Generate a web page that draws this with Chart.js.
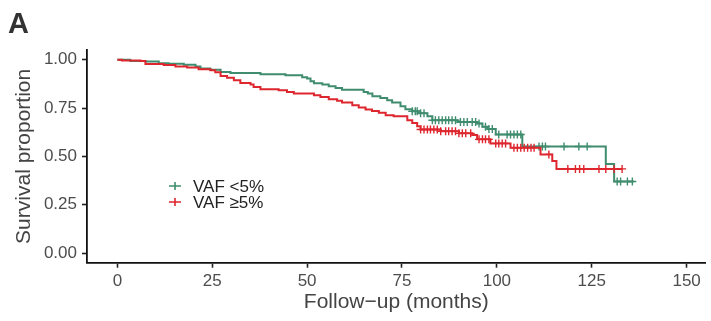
<!DOCTYPE html>
<html>
<head>
<meta charset="utf-8">
<title>Survival by VAF</title>
<script src="https://cdn.jsdelivr.net/npm/chart.js@4.4.1/dist/chart.umd.min.js"></script>
<style>
  html, body { margin: 0; padding: 0; background: #fff; }
  #wrap { width: 711px; height: 321px; }
</style>
</head>
<body>
<div id="wrap"><canvas id="km" width="711" height="321"></canvas></div>
<script>
// ---- data ----
const seriesLabels = ["VAF <5%", "VAF \u22655%"];
const seriesColors = ["#3f8c6e", "#de262e"];

// VAF <5% : step times (months) and survival after each step
const lowTimes = [0, 3.4, 7.4, 10.9, 13.5, 17.5, 20.6, 21.9, 24.5, 27.2, 29.8, 37.7, 44.3, 48.7, 50.0, 50.9, 51.8,
  54.0, 55.7, 57.5, 59.2, 64.9, 66.0, 67.2, 69.3, 71.1, 72.4, 74.6, 75.9, 77.7, 79.4, 81.7, 83.0, 89.6, 94.8,
  96.2, 97.5, 99.7, 106.7, 128.7, 130.9, 136.1];
const lowSurv = [1.0, 0.993, 0.99, 0.982, 0.979, 0.974, 0.965, 0.954, 0.948, 0.936, 0.931, 0.924, 0.919, 0.909, 0.902, 0.888, 0.878,
  0.871, 0.862, 0.854, 0.845, 0.833, 0.825, 0.811, 0.802, 0.79, 0.778, 0.759, 0.744, 0.733, 0.723, 0.708, 0.687, 0.677, 0.67,
  0.653, 0.642, 0.613, 0.551, 0.46, 0.37, 0.37];
const lowCensor = [77.7, 78.5, 79.0, 79.9, 80.8, 83.0, 83.8, 84.7, 85.6, 86.5, 87.3, 88.2, 89.1, 90.4, 91.3, 92.2, 93.5,
  94.4, 95.3, 97.0, 97.9, 98.8, 100.5, 102.7, 103.6, 104.5, 105.4, 106.3, 111.1, 112.0, 112.8, 117.7, 121.6, 123.8,
  131.7, 132.6, 134.4, 135.7];

// VAF >=5%
const highTimes = [0, 1.2, 6.1, 7.4, 12.2, 15.3, 18.4, 21.4, 24.5, 25.8, 27.2, 28.9, 30.7, 32.4, 35.1, 35.9, 37.7, 42.5,
  44.7, 46.5, 51.8, 53.5, 55.7, 57.9, 59.2, 61.9, 63.6, 65.4, 67.1, 68.9, 70.7, 72.8, 76.4, 77.7, 79.0, 79.9, 85.2,
  90.0, 93.5, 94.8, 98.3, 103.6, 111.5, 114.6, 115.7, 133.0];
const highSurv = [1.0, 0.996, 0.993, 0.977, 0.972, 0.965, 0.959, 0.951, 0.945, 0.935, 0.915, 0.907, 0.893, 0.879, 0.871, 0.859, 0.847, 0.842,
  0.833, 0.825, 0.816, 0.807, 0.795, 0.787, 0.778, 0.764, 0.753, 0.742, 0.735, 0.725, 0.713, 0.708, 0.687, 0.673, 0.656, 0.639, 0.63,
  0.619, 0.61, 0.588, 0.567, 0.545, 0.51, 0.476, 0.435, 0.435];
const highCensor = [79.9, 80.8, 81.7, 82.5, 83.4, 84.3, 85.2, 86.5, 87.3, 88.2, 89.1, 90.0, 90.9, 91.8, 93.1, 95.3, 96.2,
  97.0, 97.9, 99.7, 100.5, 101.4, 102.3, 104.5, 105.4, 106.3, 107.2, 108.1, 109.0, 109.8, 113.7, 118.7, 120.7, 121.8,
  122.9, 126.9, 128.7, 130.9, 133.0];

const xTicks = [0, 25, 50, 75, 100, 125, 150];
const yTicks = [0, 0.25, 0.5, 0.75, 1];

// survival value of a step curve at time t
function survAt(times, surv, t) {
  let s = surv[0];
  for (let i = 0; i < times.length; i++) {
    if (times[i] <= t) s = surv[i];
  }
  return s;
}
const toPoints = (times, surv) => times.map((t, i) => ({ x: t, y: surv[i] }));
const censorPoints = (c, times, surv) => c.map(t => ({ x: t, y: survAt(times, surv, t) }));

const FONT = "'Liberation Sans', Arial, Helvetica, sans-serif";

// panel letter + legend drawn in the plot
const extras = {
  id: "extras",
  afterDraw(chart) {
    const ctx = chart.ctx;
    ctx.save();
    ctx.fillStyle = "#333";
    ctx.font = "bold 29px " + FONT;
    ctx.textBaseline = "alphabetic";
    ctx.fillText("A", 8, 33);

    const rows = [186, 202];
    ctx.font = "17px " + FONT;
    ctx.textBaseline = "middle";
    seriesLabels.forEach((lab, i) => {
      const y = rows[i];
      ctx.strokeStyle = seriesColors[i];
      ctx.lineWidth = 1.6;
      ctx.beginPath();
      ctx.moveTo(169, y); ctx.lineTo(181, y);
      ctx.moveTo(175, y - 4); ctx.lineTo(175, y + 4);
      ctx.stroke();
      ctx.fillStyle = "#222";
      ctx.fillText(lab, 193, y + 1);
    });
    ctx.restore();
  }
};

new Chart(document.getElementById("km"), {
  type: "line",
  data: {
    datasets: [
      {
        label: seriesLabels[0], data: toPoints(lowTimes, lowSurv), stepped: true,
        borderColor: seriesColors[0], borderWidth: 2, pointRadius: 0, fill: false, order: 3
      },
      {
        label: seriesLabels[1], data: toPoints(highTimes, highSurv), stepped: true,
        borderColor: seriesColors[1], borderWidth: 2, pointRadius: 0, fill: false, order: 1
      },
      {
        label: "censor low", data: censorPoints(lowCensor, lowTimes, lowSurv), showLine: false,
        pointStyle: "cross", pointRadius: 4, borderColor: seriesColors[0], borderWidth: 1.4, order: 2
      },
      {
        label: "censor high", data: censorPoints(highCensor, highTimes, highSurv), showLine: false,
        pointStyle: "cross", pointRadius: 4, borderColor: seriesColors[1], borderWidth: 1.4, order: 0
      }
    ]
  },
  options: {
    responsive: false,
    animation: false,
    devicePixelRatio: 1,
    layout: { padding: { top: 50, left: 0, right: 0, bottom: 0 } },
    plugins: { legend: { display: false }, tooltip: { enabled: false } },
    scales: {
      x: {
        type: "linear", min: -8, max: 155,
        afterBuildTicks: s => { s.ticks = xTicks.map(v => ({ value: v })); },
        afterFit: s => { s.height = 58.3; },
        ticks: { color: "#4d4d4d", font: { family: FONT, size: 17 }, padding: 3, maxRotation: 0 },
        grid: { drawOnChartArea: false, drawTicks: true, tickLength: 5, tickColor: "#222", tickWidth: 1.6 },
        border: { display: true, color: "#111", width: 1.8 },
        title: { display: true, text: "Follow\u2212up (months)", color: "#444",
                 font: { family: FONT, size: 21 }, padding: { top: 0, bottom: 6 } }
      },
      y: {
        type: "linear", min: -0.05, max: 1.05,
        afterBuildTicks: s => { s.ticks = yTicks.map(v => ({ value: v })); },
        afterFit: s => { s.width = 87; },
        ticks: { color: "#4d4d4d", font: { family: FONT, size: 17 }, padding: 5,
                 callback: v => Number(v).toFixed(2) },
        grid: { drawOnChartArea: false, drawTicks: true, tickLength: 5, tickColor: "#222", tickWidth: 1.6 },
        border: { display: true, color: "#111", width: 1.8 },
        title: { display: true, text: "Survival proportion", color: "#444",
                 font: { family: FONT, size: 21 }, padding: { top: 12, bottom: 0 } }
      }
    }
  },
  plugins: [extras]
});
</script>
</body>
</html>
